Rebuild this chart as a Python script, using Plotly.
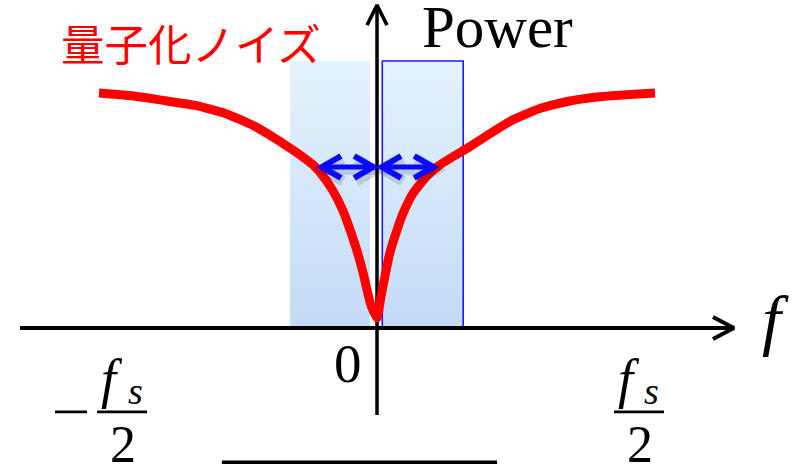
import plotly.graph_objects as go

# ---------------- data (frequency normalised by fs, power normalised) ----------------
FREQ = [-0.5, -0.444, -0.381, -0.327, -0.273, -0.219, -0.165, -0.138, -0.115, -0.103,
        -0.079, -0.061, -0.049, -0.036, -0.025, -0.018, -0.011, 0.0,
        0.007, 0.014, 0.023, 0.036, 0.047, 0.065, 0.090, 0.113, 0.140, 0.167,
        0.194, 0.239, 0.293, 0.347, 0.401, 0.455, 0.5]
NOISE = [1.0, 0.989, 0.967, 0.947, 0.913, 0.857, 0.779, 0.736, 0.694, 0.664,
         0.583, 0.498, 0.421, 0.328, 0.234, 0.162, 0.098, 0.043,
         0.132, 0.217, 0.319, 0.417, 0.489, 0.574, 0.647, 0.694, 0.734, 0.772,
         0.813, 0.879, 0.934, 0.966, 0.984, 0.994, 1.0]

BAND_LEFT = [-0.1565, -0.0126]
BAND_RIGHT = [0.0095, 0.155]
BAND_TOP = 1.136

ARROW_SPANS = [[-0.099, -0.007], [0.009, 0.101]]
ARROW_LEVEL = 0.685

F_AXIS = [-0.642, 0.642]
P_AXIS = [-0.370, 1.374]

LABEL_FS_X = [-0.4586, 0.4712]
LABEL_ZERO = [-0.052, -0.149]
TITLE_NOISE = "量子化ノイズ"
TITLE_POWER = "Power"
TITLE_F = "f"

X_RANGE = [-0.6781, 0.7644]
Y_RANGE = [-0.5787, 1.3957]

# pixel -> data unit helpers (for decoration sizes)
PX_X = (X_RANGE[1] - X_RANGE[0]) / 802
PX_Y = (Y_RANGE[1] - Y_RANGE[0]) / 464

fig = go.Figure()

TOP_COL = "rgb(228,242,252)"
BOT_COL = "rgb(196,219,247)"


def band(xs, border):
    x0, x1 = xs
    fig.add_trace(go.Scatter(
        x=[x0, x1, x1, x0, x0], y=[0, 0, BAND_TOP, BAND_TOP, 0],
        mode="lines", fill="toself",
        fillgradient=dict(type="vertical", colorscale=[[0, BOT_COL], [1, TOP_COL]],
                          start=0, stop=BAND_TOP),
        line=dict(color="#1a1aff" if border else "rgba(0,0,0,0)", width=1.6 if border else 0),
        hoverinfo="skip", showlegend=False))


band(BAND_LEFT, False)
band(BAND_RIGHT, True)


def seg(xs, ys, color="black", width=4, opacity=1.0):
    fig.add_trace(go.Scatter(x=xs, y=ys, mode="lines", opacity=opacity,
                             line=dict(color=color, width=width),
                             hoverinfo="skip", showlegend=False))


# axes
seg(F_AXIS, [0, 0], width=4)
ah_l, ah_h = 21 * PX_X, 11 * PX_Y
seg([F_AXIS[1] - ah_l, F_AXIS[1], F_AXIS[1] - ah_l], [ah_h, 0, -ah_h], width=4)
seg([0, 0], P_AXIS, width=3.5)
av_w, av_l = 10 * PX_X, 20 * PX_Y
seg([-av_w, 0, av_w], [P_AXIS[1] - av_l, P_AXIS[1], P_AXIS[1] - av_l], width=3.5)

# noise curve
fig.add_trace(go.Scatter(x=FREQ, y=NOISE, mode="lines",
                         line=dict(color="#ff0000", width=9, shape="spline", smoothing=0.5),
                         hoverinfo="skip", showlegend=False))

# blue double arrows with soft shadow
b_l, b_h = 19 * PX_X, 11 * PX_Y
for (a0, a1) in ARROW_SPANS:
    for dx, dy, col, w, op in [(2 * PX_X, -3 * PX_Y, "rgba(0,0,60,1)", 10, 0.13),
                               (0, 0, "#0a0aff", 5, 1.0)]:
        seg([a0 + dx, a1 + dx], [ARROW_LEVEL + dy] * 2, color=col, width=w, opacity=op)
        seg([a0 + b_l + dx, a0 + dx, a0 + b_l + dx],
            [ARROW_LEVEL + b_h + dy, ARROW_LEVEL + dy, ARROW_LEVEL - b_h + dy],
            color=col, width=w + 1, opacity=op)
        seg([a1 - b_l + dx, a1 + dx, a1 - b_l + dx],
            [ARROW_LEVEL + b_h + dy, ARROW_LEVEL + dy, ARROW_LEVEL - b_h + dy],
            color=col, width=w + 1, opacity=op)

SERIF = '"Liberation Serif", "Times New Roman", serif'

ann = []
ann.append(dict(x=-0.3345, y=1.215, text=TITLE_NOISE, showarrow=False,
                font=dict(family='"Noto Sans CJK JP", sans-serif', size=43.5, color="#ff0000"),
                xanchor="center", yanchor="middle"))
ann.append(dict(x=0.2176, y=1.279, text=TITLE_POWER, showarrow=False,
                font=dict(family=SERIF, size=59, color="black"),
                xanchor="center", yanchor="middle"))
ann.append(dict(x=0.7176, y=0.035, text="<i>" + TITLE_F + "</i>", showarrow=False,
                font=dict(family=SERIF, size=68, color="black"),
                xanchor="center", yanchor="middle"))
ann.append(dict(x=LABEL_ZERO[0], y=LABEL_ZERO[1], text="0", showarrow=False,
                font=dict(family=SERIF, size=55, color="black"),
                xanchor="center", yanchor="middle"))

BAR_Y = -0.357
half_bar = 25 * PX_X
for xc in LABEL_FS_X:
    ann.append(dict(x=xc - 10 * PX_X, y=BAR_Y + 33 * PX_Y, text="<i>f</i>", showarrow=False,
                    font=dict(family=SERIF, size=54, color="black"),
                    xanchor="center", yanchor="middle"))
    ann.append(dict(x=xc + 13 * PX_X, y=BAR_Y + 21 * PX_Y, text="<i>s</i>", showarrow=False,
                    font=dict(family=SERIF, size=38, color="black"),
                    xanchor="center", yanchor="middle"))
    ann.append(dict(x=xc + 1 * PX_X, y=-0.494, text="2", showarrow=False,
                    font=dict(family=SERIF, size=52, color="black"),
                    xanchor="center", yanchor="middle"))
    seg([xc - half_bar, xc + half_bar], [BAR_Y, BAR_Y], width=2.7)

# minus sign
seg([LABEL_FS_X[0] - 67 * PX_X, LABEL_FS_X[0] - 35 * PX_X], [BAR_Y, BAR_Y], width=2.7)

# cut-off bar at the bottom
seg([-0.279, 0.216], [-0.574, -0.574], width=5)

fig.update_layout(
    width=802, height=464, autosize=False,
    margin=dict(l=0, r=0, t=0, b=0),
    paper_bgcolor="white", plot_bgcolor="white",
    xaxis=dict(range=X_RANGE, visible=False, fixedrange=True),
    yaxis=dict(range=Y_RANGE, visible=False, fixedrange=True),
    annotations=ann, showlegend=False,
)

fig.write_html("out.html", config={"displayModeBar": False},
               post_script="document.body.style.margin='0';")
